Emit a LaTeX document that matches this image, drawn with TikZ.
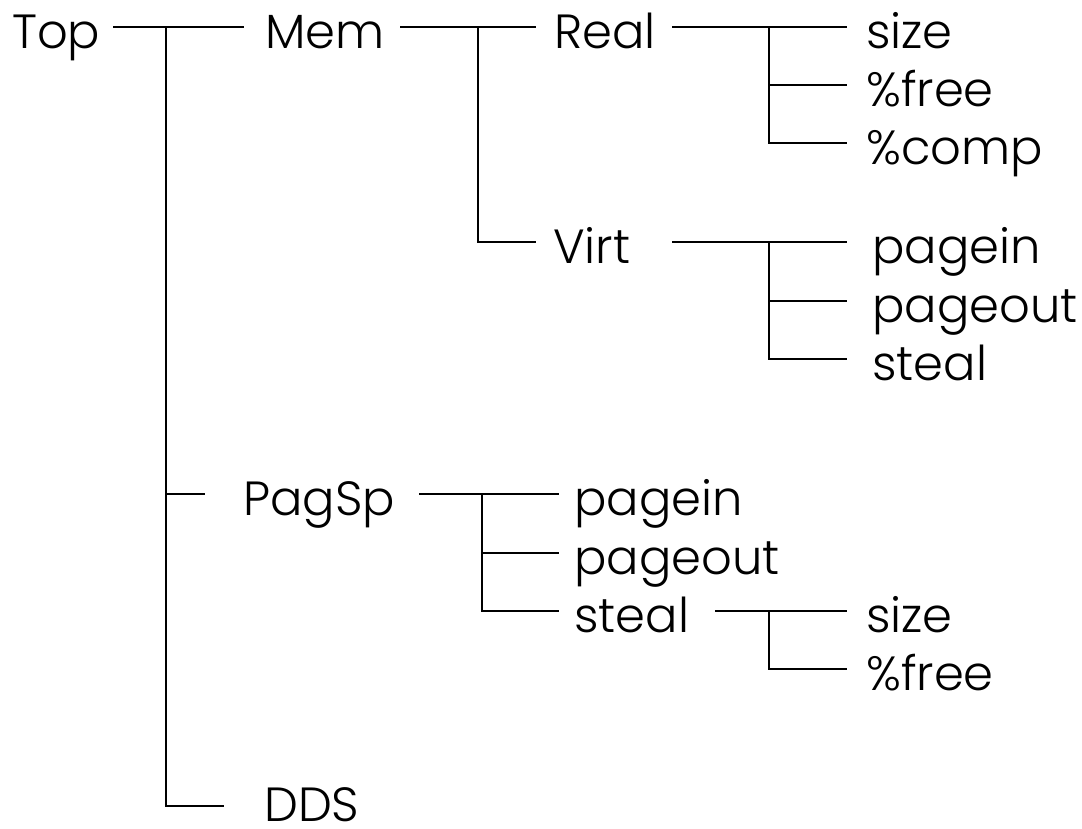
\documentclass[tikz,border=0pt]{standalone}
\usepackage{fontspec}
\setmainfont{Poppins}[UprightFont={* Light}]
\usepackage{tikz}
\usetikzlibrary{positioning, calc}

\begin{document}
\begin{tikzpicture}[
    x=1pt, y=-1pt,
    label/.style={anchor=west, inner sep=0pt, text height=42pt, text depth=0pt, font=\fontsize{48}{58}\selectfont},
    branch/.style={line width=1.2pt}
]
    \useasboundingbox (0,0) rectangle (1082,828);

    % Top level
    \node[label] (top) at (12,27) {Top};
    \node[label] (mem) at (265,27) {Mem};
    \node[label] (pagsp) at (243,494) {PagSp};
    \node[label] (dds) at (264,800) {DDS};

    % Memory
    \node[label] (real) at (554,27) {Real};
    \node[label] (virt) at (553,242) {Virt};

    % Real memory
    \node[label] (rsize) at (866,27) {size};
    \node[label] (rfree) at (866,85) {\%free};
    \node[label] (rcomp) at (866,143) {\%comp};

    % Virtual memory
    \node[label] (vin) at (872,242) {pagein};
    \node[label] (vout) at (872,301) {pageout};
    \node[label] (vsteal) at (872,359) {steal};

    % Paging space
    \node[label] (pin) at (574,494) {pagein};
    \node[label] (pout) at (574,553) {pageout};
    \node[label] (psteal) at (574,611) {steal};

    % Steal
    \node[label] (ssize) at (866,611) {size};
    \node[label] (sfree) at (866,669) {\%free};

    % Forks
    \coordinate (topfork) at (166,27);
    \coordinate (memfork) at (478,27);
    \coordinate (realfork) at (769,27);
    \coordinate (virtfork) at (769,242);
    \coordinate (pagfork) at (482,494);
    \coordinate (stealfork) at (769,611);

    % Top branches
    \draw[branch] ([xshift=-53pt]topfork) -- ([xshift=-21pt]mem.west);
    \draw[branch] (topfork) -- ([yshift=-6pt]topfork |- dds.west) -- ([xshift=-40pt,yshift=-6pt]dds.west);
    \draw[branch] (topfork |- pagsp.west) -- ([xshift=-38pt]pagsp.west);

    % Mem branches
    \draw[branch] ([xshift=-78pt]memfork) -- ([xshift=-18pt]real.west);
    \draw[branch] (memfork) -- (memfork |- virt.west) -- ([xshift=-17pt]virt.west);

    % Real branches
    \draw[branch] ([xshift=-97pt]realfork) -- ([xshift=-19pt]rsize.west);
    \draw[branch] (realfork) -- (realfork |- rcomp.west) -- ([xshift=-19pt]rcomp.west);
    \draw[branch] (realfork |- rfree.west) -- ([xshift=-19pt]rfree.west);

    % Virt branches
    \draw[branch] ([xshift=-97pt]virtfork) -- ([xshift=-25pt]vin.west);
    \draw[branch] (virtfork) -- (virtfork |- vsteal.west) -- ([xshift=-25pt]vsteal.west);
    \draw[branch] (virtfork |- vout.west) -- ([xshift=-25pt]vout.west);

    % PagSp branches
    \draw[branch] ([xshift=-63pt]pagfork) -- ([xshift=-15pt]pin.west);
    \draw[branch] (pagfork) -- (pagfork |- psteal.west) -- ([xshift=-15pt]psteal.west);
    \draw[branch] (pagfork |- pout.west) -- ([xshift=-15pt]pout.west);

    % Steal branches
    \draw[branch] ([xshift=-54pt]stealfork) -- ([xshift=-19pt]ssize.west);
    \draw[branch] (stealfork) -- (stealfork |- sfree.west) -- ([xshift=-19pt]sfree.west);
\end{tikzpicture}
\end{document}
